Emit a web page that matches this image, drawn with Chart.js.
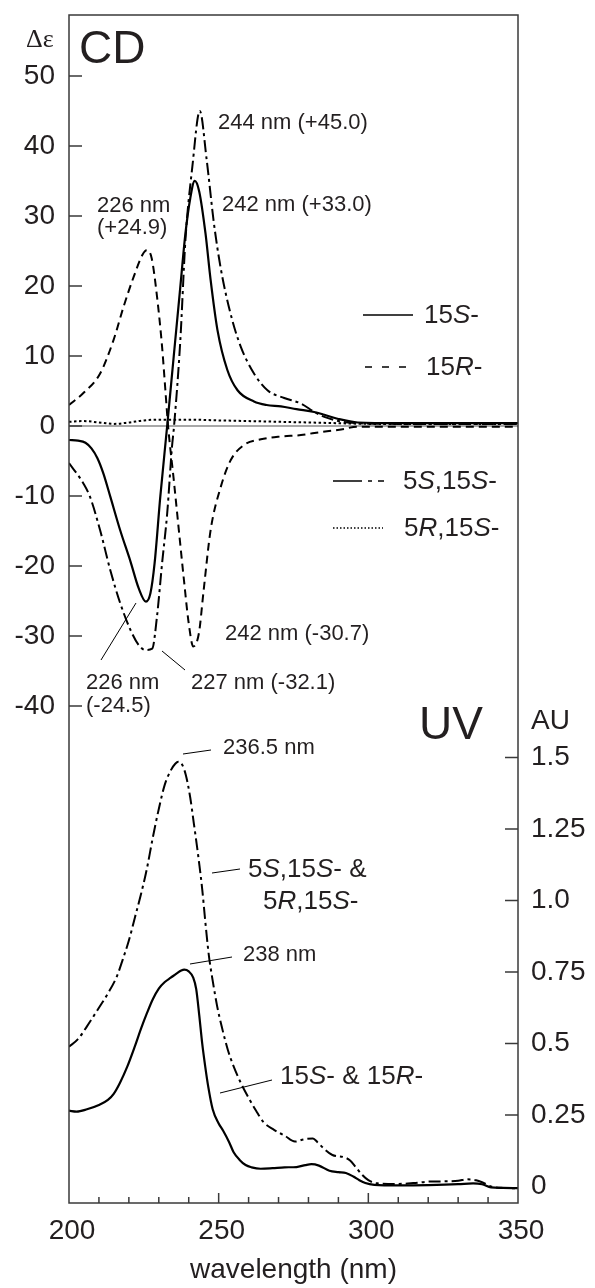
<!DOCTYPE html>
<html>
<head>
<meta charset="utf-8">
<script src="https://cdn.jsdelivr.net/npm/chart.js@4.4.1/dist/chart.umd.min.js"></script>
<style>
  html, body { margin: 0; padding: 0; background: #fff; }
  #wrap { width: 595px; height: 1288px; }
</style>
</head>
<body>
<div id="wrap"><canvas id="spectra" width="595" height="1288"></canvas></div>
<script>
// --- CD spectra (delta epsilon vs wavelength) ---
var cdWl15S = [200, 203, 205.5, 207.5, 209.5, 211.5, 213.8, 217.1, 220.5, 223.3, 225.7, 227.2, 228.6, 230.5, 232.8, 235, 237, 238.9, 240.5, 242, 243.5, 245.6, 247.3, 249.6, 252.9, 256.3, 261.8, 266, 270.8, 276, 281.9, 285.3, 290, 296.5, 310, 330, 350];
var cd15S = [-2.0, -2.1, -2.4, -3.2, -4.6, -6.8, -10.1, -14.9, -19.3, -23.2, -25.1, -23.9, -19.6, -10.1, 0, 10, 19, 27.5, 32.5, 35, 33.5, 27.5, 20.9, 13.7, 8, 5.1, 3.5, 3.0, 2.8, 2.4, 2.0, 1.6, 1.0, 0.5, 0.4, 0.4, 0.4];

var cdWl15R = [200, 204.8, 210.4, 214.9, 218.2, 221.6, 224.6, 226, 227.6, 229.4, 231.1, 232.2, 233.1, 235, 236.7, 238.4, 240, 241.5, 243.4, 245, 247.3, 250.7, 254, 258.5, 264.1, 270.8, 277.5, 282, 290.9, 296.5, 310, 330, 350];
var cd15R = [3.0, 4.7, 7.5, 12.3, 17, 21.3, 24.5, 25.1, 24.0, 18.5, 11.3, 5.1, 0, -7.7, -14.9, -22, -28.2, -31.5, -29.6, -23.4, -14.9, -8.7, -4.9, -2.7, -1.9, -1.5, -1.3, -1.0, -0.5, -0.1, -0.1, -0.1, -0.1];

var cdWl5S15S = [200, 204.8, 207, 210.4, 213.8, 217.1, 220.5, 223.3, 225.5, 227.8, 229.4, 231.1, 232.8, 234.4, 235.1, 237.2, 238.9, 241.2, 243.7, 246, 248.4, 250.7, 254, 257.4, 261.8, 266.3, 271.9, 277.5, 282, 285.3, 293.2, 310, 330, 350];
var cd5S15S = [-5.3, -8.2, -10.1, -14.9, -20.6, -25.3, -29.1, -31.3, -32, -31.8, -27.2, -19.6, -12.5, -3.0, 0, 12.3, 26.6, 37, 45, 38, 29, 22.5, 16, 11.3, 7.5, 5.1, 4.0, 3.2, 2.0, 1.3, 0.5, 0.3, 0.3, 0.3];

var cdWl5R15S = [200, 205, 210, 215, 220, 225, 230, 240, 250, 260, 270, 280, 290, 300, 350];
var cd5R15S = [0.6, 0.7, 0.5, 0.3, 0.5, 0.8, 0.9, 0.9, 0.8, 0.7, 0.6, 0.5, 0.4, 0.3, 0.3];

// --- UV spectra (AU) ---
var uvWlS = [200, 202.5, 206, 210, 213, 215, 217, 219.5, 222, 224, 226, 228, 230, 232, 234, 236, 237.5, 238.5, 240, 241.5, 242.5, 243.5, 244.5, 245.5, 246.5, 248, 250, 251.5, 253.5, 255, 257, 259, 261, 264, 268, 272, 276, 279, 281, 283.5, 287, 290, 292.5, 295, 297, 299, 302, 310, 320, 330, 335, 338, 341, 345, 350];
var uvS = [0.265, 0.262, 0.27, 0.285, 0.303, 0.325, 0.362, 0.42, 0.49, 0.55, 0.605, 0.655, 0.692, 0.715, 0.73, 0.745, 0.755, 0.758, 0.752, 0.73, 0.69, 0.6, 0.5, 0.42, 0.35, 0.27, 0.22, 0.195, 0.155, 0.12, 0.093, 0.075, 0.067, 0.062, 0.064, 0.067, 0.068, 0.075, 0.078, 0.073, 0.055, 0.05, 0.047, 0.035, 0.022, 0.012, 0.006, 0.004, 0.005, 0.008, 0.011, 0.008, -0.003, -0.005, -0.006];

var uvWl5S = [200, 203, 206, 210, 213, 216, 218, 220, 222, 224, 226, 228, 230, 232, 234, 235.5, 236.5, 237.5, 239, 240.5, 241.7, 243, 244.5, 245.5, 246.7, 248, 249.5, 251, 253, 255, 257.5, 260, 262.5, 265, 268.5, 272, 275.5, 278.5, 281.5, 283, 285, 288, 292, 294, 296, 298, 300, 303, 310, 315, 320, 325, 330, 333, 336, 338, 341, 345, 350];
var uv5S = [0.489, 0.515, 0.56, 0.625, 0.675, 0.735, 0.795, 0.86, 0.94, 1.02, 1.11, 1.22, 1.32, 1.405, 1.455, 1.478, 1.485, 1.48, 1.44, 1.36, 1.27, 1.17, 1.04, 0.93, 0.81, 0.72, 0.63, 0.56, 0.48, 0.42, 0.36, 0.31, 0.265, 0.225, 0.198, 0.178, 0.157, 0.165, 0.168, 0.155, 0.134, 0.11, 0.102, 0.09, 0.065, 0.04, 0.022, 0.011, 0.009, 0.012, 0.017, 0.018, 0.02, 0.025, 0.022, 0.015, 0.0, -0.005, -0.006];

// --- tick labels ---
var wlTicks = [200, 250, 300, 350];
var wlMinorTicks = [210, 220, 230, 240, 250, 260, 270, 280, 290, 300, 310, 320, 330, 340];
var cdTicks = [50, 40, 30, 20, 10, 0, -10, -20, -30, -40];
var uvTicks = [1.5, 1.25, 1.0, 0.75, 0.5, 0.25, 0];
var uvTickLabels = ['1.5', '1.25', '1.0', '0.75', '0.5', '0.25', '0'];

function pts(xs, ys) {
	return xs.map(function(x, i) { return { x: x, y: ys[i] }; });
}

var INK = '#231f20';
var SANS = '"Liberation Sans", Arial, sans-serif';

var solid = [];
var dashed = [8, 5];
var dashDot = [12, 4, 3, 4];
var dotted = [2.5, 2.5];

// draw text with some parts in italic
function richText(ctx, parts, x, y, size) {
	var cx = x;
	parts.forEach(function(p) {
		ctx.font = (p[1] ? 'italic ' : '') + size + 'px ' + SANS;
		ctx.fillText(p[0], cx, y);
		cx += ctx.measureText(p[0]).width;
	});
}

function seg(ctx, x1, y1, x2, y2, dash, w) {
	ctx.save();
	ctx.beginPath();
	ctx.setLineDash(dash || []);
	ctx.lineWidth = w || 1;
	ctx.strokeStyle = '#000';
	ctx.moveTo(x1, y1);
	ctx.lineTo(x2, y2);
	ctx.stroke();
	ctx.restore();
}

var framePlugin = {
	id: 'frame',
	beforeDatasetsDraw: function(chart) {
		var ctx = chart.ctx, a = chart.chartArea;
		var cd = chart.scales.cd;
		// zero line of CD
		ctx.save();
		ctx.strokeStyle = '#8a8a8a';
		ctx.lineWidth = 1.5;
		ctx.beginPath();
		ctx.moveTo(a.left, cd.getPixelForValue(0));
		ctx.lineTo(a.right, cd.getPixelForValue(0));
		ctx.stroke();
		ctx.restore();
	},
	afterDatasetsDraw: function(chart) {
		var ctx = chart.ctx, a = chart.chartArea;
		var x = chart.scales.x, cd = chart.scales.cd, uv = chart.scales.uv;
		ctx.save();
		ctx.strokeStyle = '#3a3a3a';
		ctx.lineWidth = 1.5;
		ctx.strokeRect(a.left, a.top, a.right - a.left, a.bottom - a.top);

		// ticks
		ctx.beginPath();
		cdTicks.forEach(function(v) {
			var py = cd.getPixelForValue(v);
			ctx.moveTo(a.left, py); ctx.lineTo(a.left + 13, py);
		});
		uvTicks.forEach(function(v) {
			if (v === 0) return;
			var py = uv.getPixelForValue(v);
			ctx.moveTo(a.right, py); ctx.lineTo(a.right - 13, py);
		});
		wlMinorTicks.forEach(function(v) {
			var px = x.getPixelForValue(v);
			var len = (v % 50 === 0) ? 10 : 6;
			ctx.moveTo(px, a.bottom); ctx.lineTo(px, a.bottom - len);
		});
		ctx.stroke();

		// tick labels
		ctx.fillStyle = INK;
		ctx.font = '28px ' + SANS;
		ctx.textBaseline = 'middle';
		ctx.textAlign = 'right';
		cdTicks.forEach(function(v) {
			ctx.fillText(String(v), 55, cd.getPixelForValue(v));
		});
		ctx.textAlign = 'left';
		uvTicks.forEach(function(v, i) {
			ctx.fillText(uvTickLabels[i], 531, uv.getPixelForValue(v));
		});
		ctx.textAlign = 'center';
		wlTicks.forEach(function(v) {
			ctx.fillText(String(v), x.getPixelForValue(v) + 3, 1231);
		});
		ctx.fillText('wavelength (nm)', (a.left + a.right) / 2, 1270);

		// panel titles
		ctx.textAlign = 'left';
		ctx.font = '46px ' + SANS;
		ctx.fillText('CD', 79, 50);
		ctx.fillText('UV', 419, 726);
		ctx.font = '28px ' + SANS;
		ctx.fillText('AU', 531, 721);
		ctx.font = '26px "Liberation Serif", "Times New Roman", serif';
		ctx.fillText('\u0394\u03b5', 26, 40);

		// legend (CD)
		seg(ctx, 363, 315, 413, 315, solid, 1.5);
		richText(ctx, [['15', 0], ['S', 1], ['-', 0]], 424, 316, 26);
		seg(ctx, 365, 367, 415, 367, [7, 10], 1.5);
		richText(ctx, [['15', 0], ['R', 1], ['-', 0]], 426, 368, 26);
		seg(ctx, 333, 481, 384, 481, [29, 6, 4, 6], 1.5);
		richText(ctx, [['5', 0], ['S', 1], [',15', 0], ['S', 1], ['-', 0]], 403, 482, 26);
		seg(ctx, 333, 528, 383, 528, [1.5, 2], 1.5);
		richText(ctx, [['5', 0], ['R', 1], [',15', 0], ['S', 1], ['-', 0]], 404, 529, 26);

		// peak annotations
		ctx.font = '22px ' + SANS;
		ctx.fillText('244 nm (+45.0)', 218, 123);
		ctx.fillText('242 nm (+33.0)', 222, 205);
		ctx.fillText('226 nm', 97, 206);
		ctx.fillText('(+24.9)', 97, 228);
		ctx.fillText('242 nm (-30.7)', 225, 634);
		ctx.fillText('226 nm', 86, 683);
		ctx.fillText('(-24.5)', 86, 706);
		ctx.fillText('227 nm (-32.1)', 191, 683);
		ctx.fillText('236.5 nm', 223, 748);
		ctx.fillText('238 nm', 243, 955);
		seg(ctx, 101, 660, 136, 603, solid, 1);
		seg(ctx, 162, 651, 185, 670, solid, 1);
		seg(ctx, 183, 754, 211, 750, solid, 1);
		seg(ctx, 190, 964, 232, 957, solid, 1);

		// UV labels
		richText(ctx, [['5', 0], ['S', 1], [',15', 0], ['S', 1], ['- &', 0]], 248, 870, 26);
		richText(ctx, [['5', 0], ['R', 1], [',15', 0], ['S', 1], ['-', 0]], 263, 902, 26);
		richText(ctx, [['15', 0], ['S', 1], ['- & 15', 0], ['R', 1], ['-', 0]], 280, 1077, 26);
		seg(ctx, 212, 873, 240, 869, solid, 1);
		seg(ctx, 220, 1093, 272, 1080, solid, 1);
		ctx.restore();
	}
};

function line(data, axis, dash, width) {
	return {
		data: data,
		yAxisID: axis,
		borderColor: '#000',
		borderWidth: width || 2,
		borderDash: dash,
		pointRadius: 0,
		fill: false,
		cubicInterpolationMode: 'monotone'
	};
}

var ctx = document.getElementById('spectra').getContext('2d');

var spectra = new Chart(ctx, {
	type: 'line',
	data: {
		datasets: [
			line(pts(cdWl5R15S, cd5R15S), 'cd', dotted, 2),
			line(pts(cdWl15R, cd15R), 'cd', dashed, 2),
			line(pts(cdWl5S15S, cd5S15S), 'cd', dashDot, 2),
			line(pts(cdWl15S, cd15S), 'cd', solid, 2.2),
			line(pts(uvWl5S, uv5S), 'uv', dashDot, 2),
			line(pts(uvWlS, uvS), 'uv', solid, 2.2)
		]
	},
	options: {
		responsive: false,
		animation: false,
		devicePixelRatio: 1,
		layout: {
			padding: { left: 69, right: 77, top: 15, bottom: 85 }
		},
		plugins: {
			legend: { display: false },
			tooltip: { enabled: false }
		},
		scales: {
			x: { type: 'linear', min: 200, max: 350, display: false },
			cd: { type: 'linear', min: -111, max: 58.71, display: false },
			uv: { type: 'linear', min: -0.0577, max: 4.096, display: false }
		}
	},
	plugins: [framePlugin]
});
</script>
</body>
</html>
